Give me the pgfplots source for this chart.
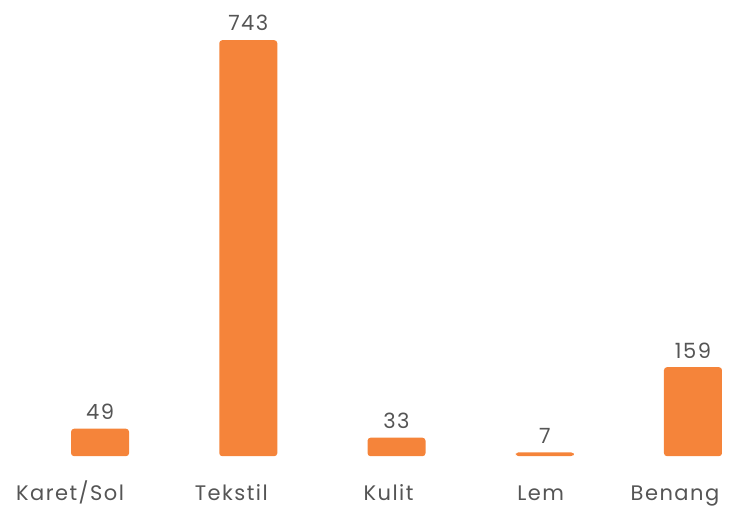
\documentclass[border=0pt]{standalone}
\usepackage{pgfplots}
\pgfplotsset{compat=1.18}
\usepackage{fontspec}
\setmainfont{Poppins}[LetterSpace=7]
\definecolor{barorange}{HTML}{F5843A}
\definecolor{txtgray}{HTML}{555555}
\begin{document}
\begin{tikzpicture}
\begin{axis}[
  scale only axis,
  width=366.5pt, height=228pt,
  xmin=-0.675, xmax=4.27,
  ymin=0, ymax=814.4,
  axis line style={draw=none},
  ymajorticks=false,
  xtick=data,
  xticklabels={{\kern-30pt Karet/Sol},{\kern-17pt Tekstil},{\kern-8pt Kulit},{\kern-4pt Lem},{\kern-18pt Benang}},
  major tick length=0pt,
  xticklabel style={font=\fontsize{10.5}{12}\selectfont, text=txtgray, anchor=base, yshift=-22pt},
  /pgf/number format/assume math mode=true,
  clip=false,
  ybar, bar width=29pt,
  nodes near coords,
  every node near coord/.append style={font=\fontsize{10.5}{12}\selectfont, text=txtgray, yshift=1pt},
]
\addplot[fill=barorange, draw=none, rounded corners=1.5pt] coordinates {
  (0,49) (1,743) (2,33) (3,7) (4,159)
};
\end{axis}
\path[use as bounding box] (0,-25pt) rectangle (366.5pt,228pt);
\end{tikzpicture}
\end{document}
